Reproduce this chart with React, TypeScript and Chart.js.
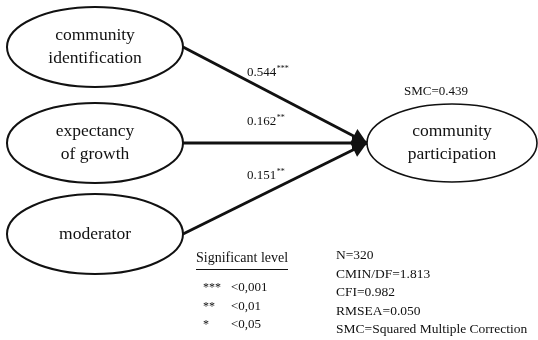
import React, { useEffect, useRef } from "react";
import { Chart, registerables } from "chart.js";

Chart.register(...registerables);

// Path model: three predictors -> community participation
const SOURCE_LABELS = [["community", "identification"], ["expectancy", "of growth"], ["moderator"]];
const TARGET_LABEL = ["community", "participation"];
const PATH_COEFFS = [0.544, 0.162, 0.151];
const PATH_SIG = ["***", "**", "**"];
const SMC_VALUE = 0.439;

// Significance legend
const SIG_MARKS = ["***", "**", "*"];
const SIG_LEVELS = ["<0,001", "<0,01", "<0,05"];

// Model fit summary
const FIT_NAMES = ["N", "CMIN/DF", "CFI", "RMSEA", "SMC"];
const FIT_VALUES = ["320", "1.813", "0.982", "0.050", "Squared Multiple Correction"];

// Diagram layout (drawing units, mapped through the chart's scales)
const LAYOUT = {
  width: 538,
  height: 340,
  source: { cx: 95, cy: [47, 143, 234], rx: 88, ry: 40 },
  target: { cx: 452, cy: 143, rx: 85, ry: 39 },
  coeffLabel: { x: 247, y: [73, 122, 176] },
  smc: { x: 404, y: 92 },
  legend: { x: 196, titleY: 258, ruleY: 269, ruleEnd: 288, rowsY: [288, 307, 325], markX: 203, levelX: 231 },
  fit: { x: 336, rowsY: [255, 274, 292, 311, 329] },
};

const FONT = '"Liberation Serif", "Times New Roman", serif';
const INK = "#111";

const diagramPlugin = {
  id: "pathDiagram",
  afterDatasetsDraw(chart: any) {
    const { ctx, scales } = chart;
    const px = (v: number) => scales.x.getPixelForValue(v);
    const py = (v: number) => scales.y.getPixelForValue(v);
    const sx = (d: number) => Math.abs(px(d) - px(0));
    const sy = (d: number) => Math.abs(py(d) - py(0));

    ctx.save();

    const ellipse = (cx: number, cy: number, rx: number, ry: number, lw: number) => {
      ctx.beginPath();
      ctx.ellipse(px(cx), py(cy), sx(rx), sy(ry), 0, 0, Math.PI * 2);
      ctx.fillStyle = "#fff";
      ctx.fill();
      ctx.lineWidth = lw;
      ctx.strokeStyle = INK;
      ctx.stroke();
    };

    const lines = (texts: string[], cx: number, cy: number, size: number, gap: number) => {
      ctx.font = `${size}px ${FONT}`;
      ctx.fillStyle = INK;
      ctx.textAlign = "center";
      ctx.textBaseline = "middle";
      const start = cy - ((texts.length - 1) * gap) / 2;
      texts.forEach((t, i) => ctx.fillText(t, px(cx), py(start + i * gap)));
    };

    // Nodes
    const s = LAYOUT.source;
    SOURCE_LABELS.forEach((lab, i) => {
      ellipse(s.cx, s.cy[i], s.rx, s.ry, 2);
      lines(lab, s.cx, s.cy[i], 17.5, 23);
    });
    const t = LAYOUT.target;
    ellipse(t.cx, t.cy, t.rx, t.ry, 1.6);
    lines(TARGET_LABEL, t.cx, t.cy, 17.5, 23);

    // Arrowheads at the end of each path
    chart.data.datasets.forEach((_: any, i: number) => {
      const meta = chart.getDatasetMeta(i);
      const a = meta.data[0];
      const b = meta.data[meta.data.length - 1];
      const ang = Math.atan2(b.y - a.y, b.x - a.x);
      const len = 15;
      const hw = 8;
      const bx = b.x - Math.cos(ang) * len;
      const by = b.y - Math.sin(ang) * len;
      ctx.beginPath();
      ctx.moveTo(b.x, b.y);
      ctx.lineTo(bx + Math.sin(ang) * hw, by - Math.cos(ang) * hw);
      ctx.lineTo(bx - Math.sin(ang) * hw, by + Math.cos(ang) * hw);
      ctx.closePath();
      ctx.fillStyle = INK;
      ctx.fill();
    });

    // Path coefficients with significance marks
    ctx.textAlign = "left";
    ctx.textBaseline = "middle";
    PATH_COEFFS.forEach((c, i) => {
      const x = px(LAYOUT.coeffLabel.x);
      const y = py(LAYOUT.coeffLabel.y[i]);
      ctx.font = `13px ${FONT}`;
      ctx.fillStyle = INK;
      const txt = c.toFixed(3);
      ctx.fillText(txt, x, y);
      const w = ctx.measureText(txt).width;
      ctx.font = `8px ${FONT}`;
      ctx.fillText(PATH_SIG[i], x + w + 0.5, y - 4);
    });

    // Explained variance
    ctx.font = `13px ${FONT}`;
    ctx.fillText(`SMC=${SMC_VALUE.toFixed(3)}`, px(LAYOUT.smc.x), py(LAYOUT.smc.y));

    // Significance legend
    const L = LAYOUT.legend;
    ctx.font = `14px ${FONT}`;
    ctx.fillText("Significant level", px(L.x), py(L.titleY));
    ctx.beginPath();
    ctx.moveTo(px(L.x), py(L.ruleY) + 0.5);
    ctx.lineTo(px(L.ruleEnd), py(L.ruleY) + 0.5);
    ctx.lineWidth = 1;
    ctx.strokeStyle = INK;
    ctx.stroke();
    SIG_MARKS.forEach((m, i) => {
      ctx.font = `12px ${FONT}`;
      ctx.fillText(m, px(L.markX), py(L.rowsY[i]));
      ctx.font = `13px ${FONT}`;
      ctx.fillText(SIG_LEVELS[i], px(L.levelX), py(L.rowsY[i]));
    });

    // Fit statistics
    ctx.font = `13.5px ${FONT}`;
    FIT_NAMES.forEach((n, i) => {
      ctx.fillText(`${n}=${FIT_VALUES[i]}`, px(LAYOUT.fit.x), py(LAYOUT.fit.rowsY[i]));
    });

    ctx.restore();
  },
};

export default function App() {
  const ref = useRef<HTMLCanvasElement | null>(null);

  useEffect(() => {
    if (!ref.current) return;
    const s = LAYOUT.source;
    const t = LAYOUT.target;
    const datasets = PATH_COEFFS.map((c, i) => ({
      label: `${SOURCE_LABELS[i].join(" ")} (${c})`,
      data: [
        { x: s.cx + s.rx, y: s.cy[i] },
        { x: t.cx - t.rx, y: t.cy },
      ],
      showLine: true,
      borderColor: INK,
      borderWidth: 3,
      borderCapStyle: "butt" as const,
      pointRadius: 0,
      tension: 0,
      clip: false as const,
    }));

    const chart = new Chart(ref.current, {
      type: "scatter",
      data: { datasets },
      options: {
        animation: false,
        responsive: false,
        devicePixelRatio: 1,
        layout: { padding: 0 },
        plugins: { legend: { display: false }, tooltip: { enabled: false }, title: { display: false } },
        scales: {
          x: { type: "linear", min: 0, max: LAYOUT.width, display: false },
          y: { type: "linear", min: 0, max: LAYOUT.height, reverse: true, display: false },
        },
      },
      plugins: [diagramPlugin],
    });
    return () => chart.destroy();
  }, []);

  return (
    <div style={{ position: "fixed", left: 0, top: 0, width: LAYOUT.width, height: LAYOUT.height, background: "#fff" }}>
      <canvas ref={ref} width={LAYOUT.width} height={LAYOUT.height} />
    </div>
  );
}
